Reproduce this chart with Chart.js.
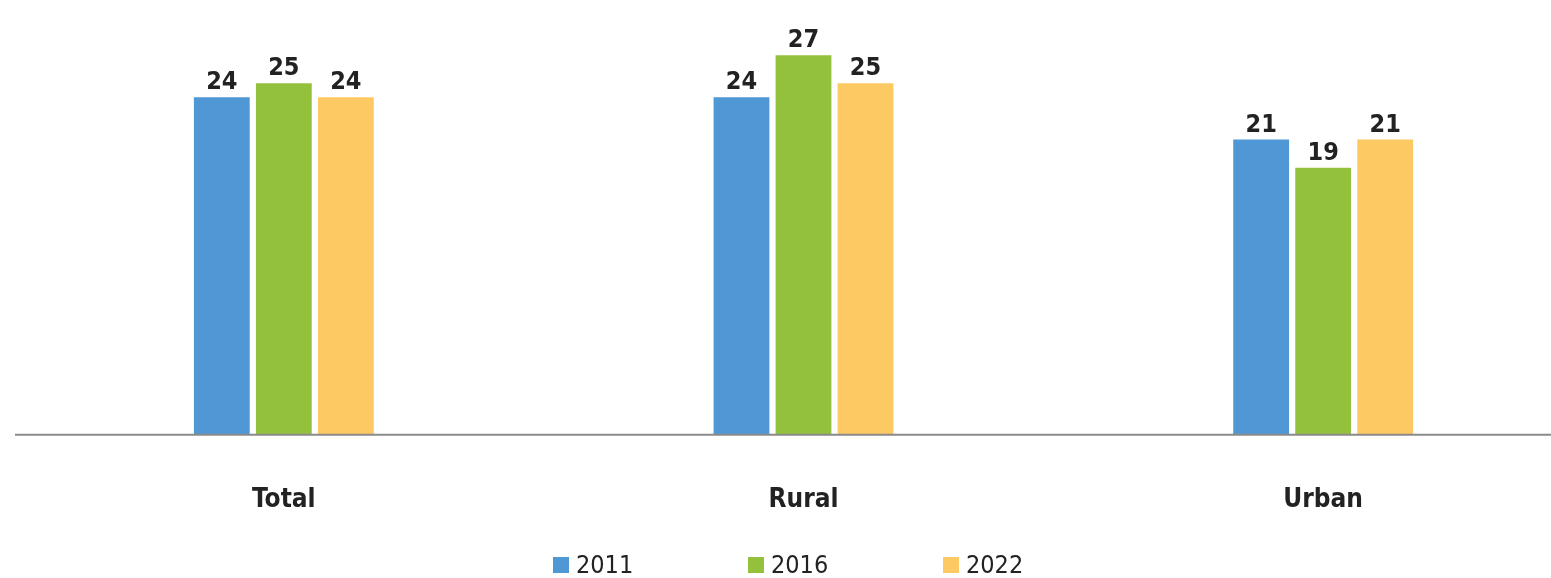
<!DOCTYPE html>
<html>
<head>
<meta charset="utf-8">
<script src="https://cdn.jsdelivr.net/npm/chart.js@4.4.1/dist/chart.umd.min.js"></script>
<style>
    html, body { margin: 0; padding: 0; background: #fff; overflow: hidden; }
    #wrap { position: relative; width: 1600px; height: 578px; }
    #legend {
        position: absolute; left: 553px; top: 550px;
        display: flex; align-items: center;
        font-family: "Liberation Sans Narrow", "DejaVu Sans Condensed", sans-serif;
        font-size: 25px; color: #222;
    }
    .item { display: flex; align-items: center; width: 195px; }
    .swatch { width: 16px; height: 16px; margin-right: 7px; }
</style>
</head>
<body>
<div id="wrap">
    <canvas id="chart"></canvas>
    <div id="legend"></div>
</div>
<script>
    'use strict';

    // ---- data ----
    const categories = ['Total', 'Rural', 'Urban'];
    const years = ['2011', '2016', '2022'];
    const values2011 = [24, 24, 21];
    const values2016 = [25, 27, 19];
    const values2022 = [24, 25, 21];
    const colors = ['#4f97d5', '#93c13c', '#fdc962'];

    const FONT = '"Liberation Sans Narrow", "DejaVu Sans Condensed", sans-serif';

    // value labels above every bar
    const barValues = {
        id: 'barValues',
        afterDatasetsDraw(chart) {
            const ctx = chart.ctx;
            ctx.save();
            ctx.font = 'bold 25px ' + FONT;
            ctx.fillStyle = '#222';
            ctx.textAlign = 'center';
            ctx.textBaseline = 'bottom';
            chart.data.datasets.forEach((ds, i) => {
                chart.getDatasetMeta(i).data.forEach((bar, j) => {
                    ctx.fillText(ds.data[j], bar.x, bar.y - 2);
                });
            });
            ctx.restore();
        }
    };

    // baseline rule across the page
    const baseline = {
        id: 'baseline',
        afterDraw(chart) {
            const ctx = chart.ctx;
            const y = chart.scales.y.getPixelForValue(0);
            ctx.save();
            ctx.strokeStyle = '#8a8a8a';
            ctx.lineWidth = 2;
            ctx.beginPath();
            ctx.moveTo(15, y);
            ctx.lineTo(1551, y);
            ctx.stroke();
            ctx.restore();
        }
    };

    const series = [values2011, values2016, values2022];

    new Chart(document.getElementById('chart'), {
        type: 'bar',
        data: {
            labels: categories,
            datasets: years.map((year, i) => ({
                label: year,
                data: series[i],
                backgroundColor: colors[i],
                borderWidth: 0,
                categoryPercentage: 0.358,
                barPercentage: 0.9
            }))
        },
        options: {
            responsive: true,
            maintainAspectRatio: false,
            animation: false,
            layout: { padding: { left: 24, right: 17, top: 13, bottom: 20 } },
            plugins: {
                legend: { display: false },
                tooltip: { enabled: false }
            },
            scales: {
                x: {
                    grid: { display: false },
                    border: { display: false },
                    ticks: {
                        padding: 42,
                        color: '#222',
                        font: { family: FONT, size: 26, weight: 'bold' }
                    }
                },
                y: {
                    display: false,
                    min: 0,
                    max: 30
                }
            }
        },
        plugins: [barValues, baseline]
    });

    // legend row
    const legend = document.getElementById('legend');
    years.forEach((year, i) => {
        const item = document.createElement('div');
        item.className = 'item';
        item.innerHTML = `<span class="swatch" style="background:${colors[i]}"></span><span>${year}</span>`;
        legend.appendChild(item);
    });
</script>
</body>
</html>
